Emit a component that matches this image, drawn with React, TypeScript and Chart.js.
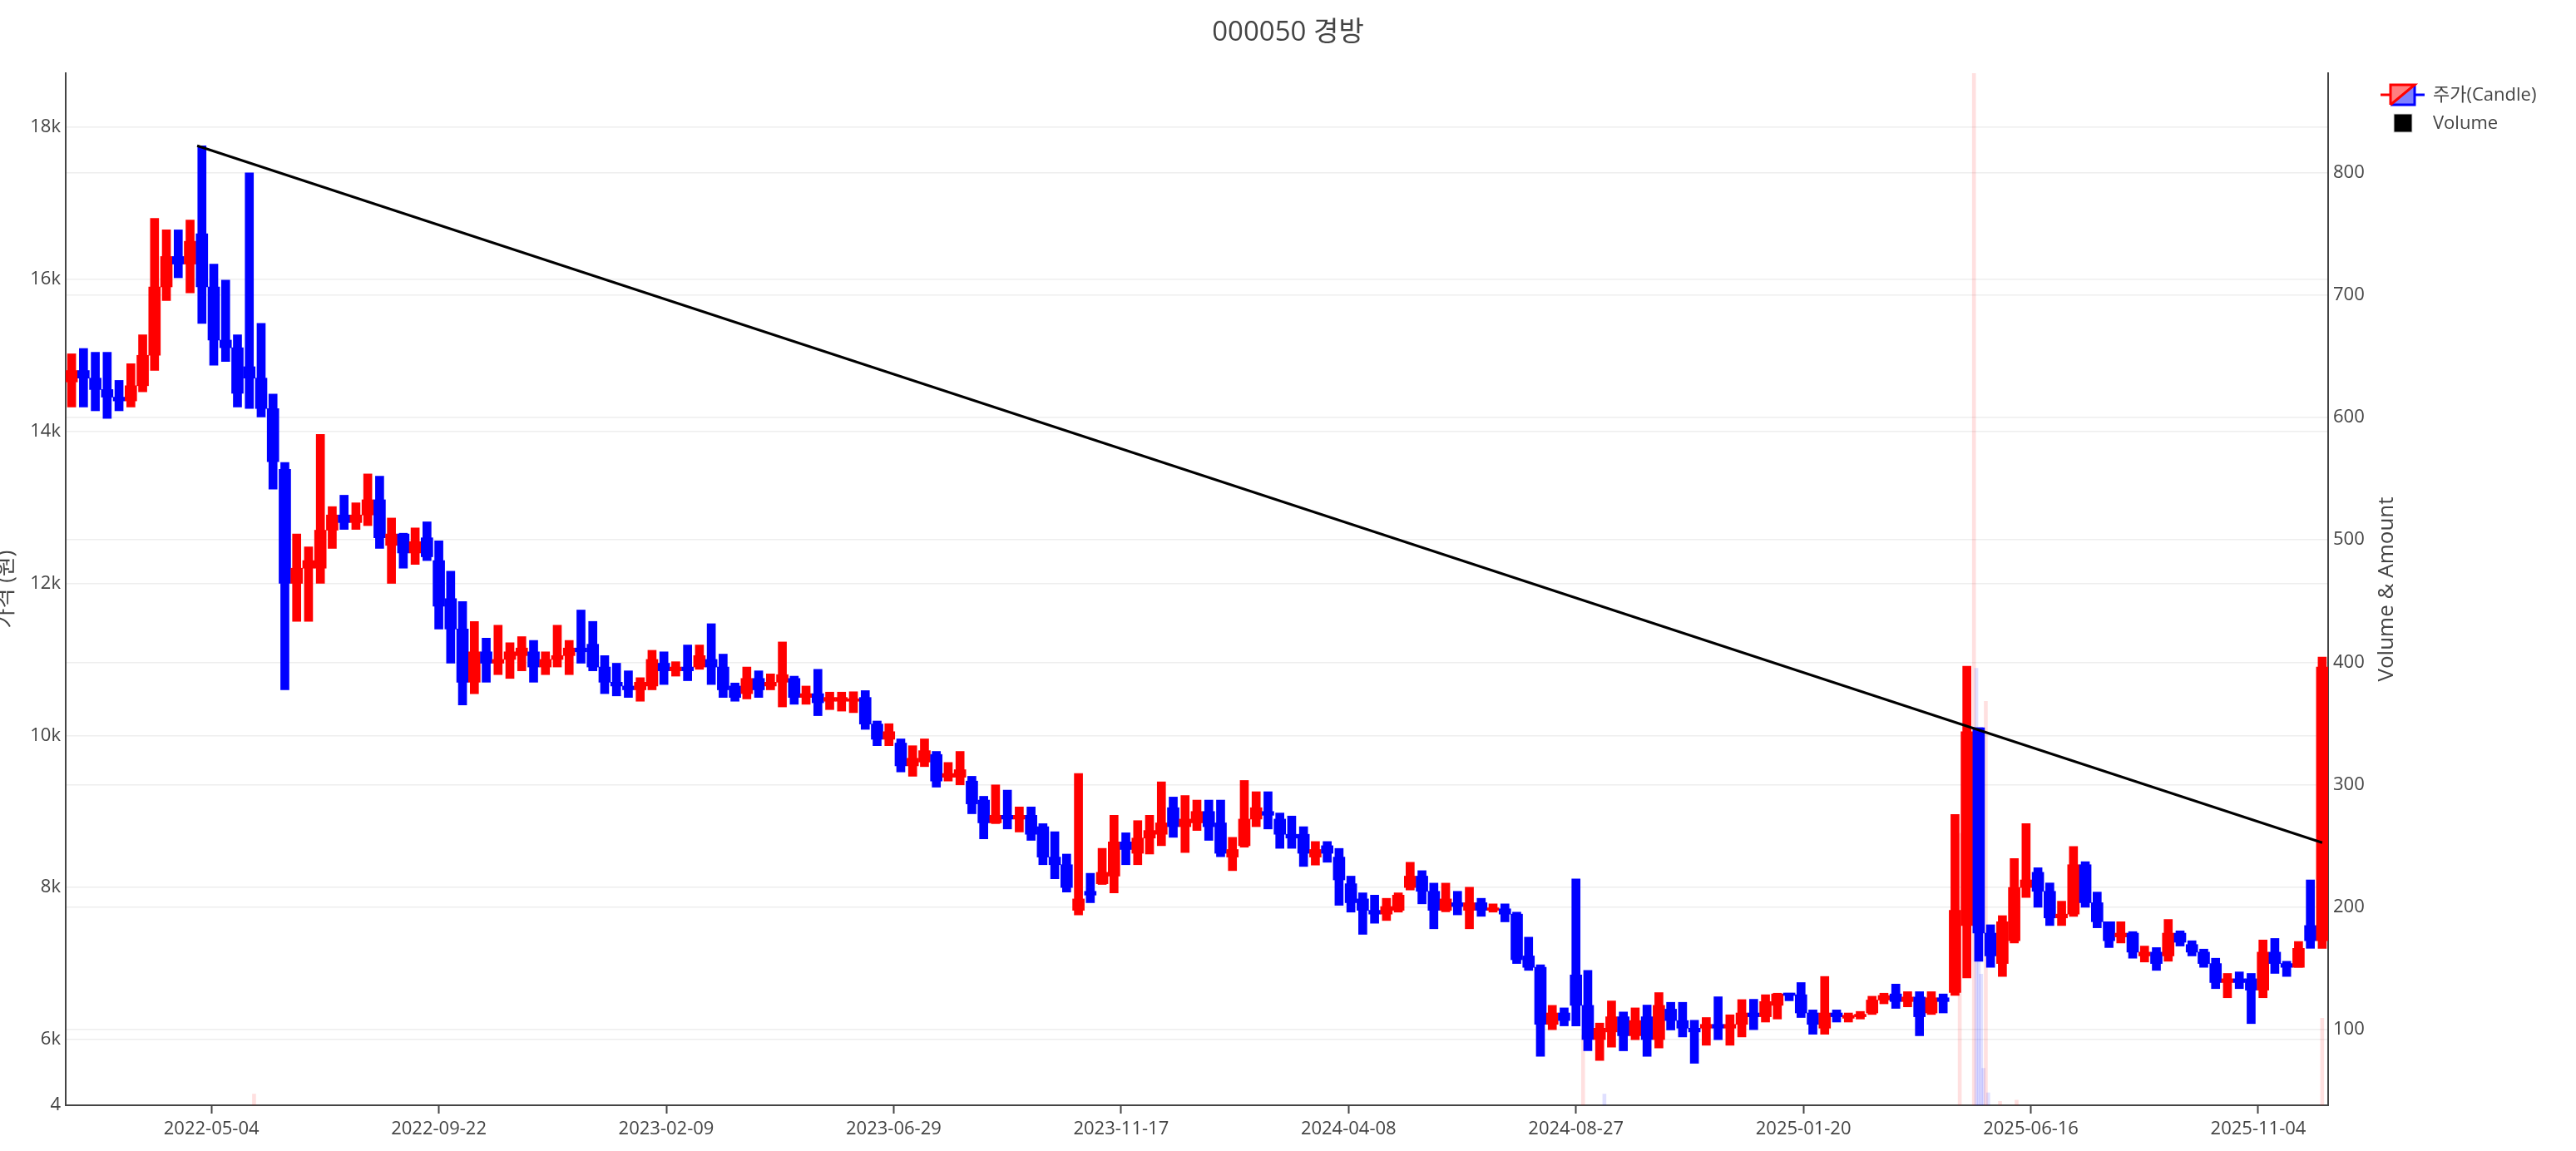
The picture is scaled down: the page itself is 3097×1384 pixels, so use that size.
import React, { useEffect, useRef } from 'react';
import { Chart, registerables } from 'chart.js';

Chart.register(...registerables);

const FONT = '"Open Sans", "Noto Sans CJK KR", sans-serif';
const TITLE = '000050 경방';
const PRICE_TITLE = '가격 (원)';
const VOLUME_TITLE = 'Volume & Amount';
const LEGEND_CANDLE = '주가(Candle)';
const LEGEND_VOLUME = 'Volume';

// trading-day axis: each candle below aggregates 5 trading days
const TOTAL_DAYS = 955;
const DAYS_PER_BAR = 5;

const TICK_DAY = [61, 157, 253, 349, 445, 541, 637, 733, 829, 925];
const TICK_LABELS = [
  '2022-05-04', '2022-09-22', '2023-02-09', '2023-06-29', '2023-11-17',
  '2024-04-08', '2024-08-27', '2025-01-20', '2025-06-16', '2025-11-04',
];

const PRICE_MIN = 5136;
const PRICE_MAX = 18711;
const PRICE_TICKS = [6000, 8000, 10000, 12000, 14000, 16000, 18000];
const VOL_MIN = 37.8;
const VOL_MAX = 881.6;
const VOL_TICKS = [100, 200, 300, 400, 500, 600, 700, 800];

const OPEN = [
  14650, 14800, 14700, 14550, 14450, 14400, 14600, 15000, 15900, 16300,
  16200, 16600, 15900, 15200, 15100, 14850, 14700, 14300, 13500, 12000,
  12200, 12200, 12700, 12900, 12800, 12900, 13100, 12500, 12650, 12400,
  12600, 12300, 11800, 11400, 10700, 11100, 10950, 11000, 11050, 11100,
  10900, 11000, 11050, 11150, 11200, 10900, 10700, 10650, 10600, 10650,
  10950, 10850, 10900, 10900, 11000, 10900, 10650, 10550, 10750, 10650,
  10700, 10750, 10500, 10550, 10450, 10450, 10450, 10500, 10150, 9950,
  9900, 9600, 9650, 9750, 9450, 9450, 9400, 9150, 8850, 8950,
  8900, 8950, 8800, 8400, 8300, 7700, 7950, 8050, 8150, 8600,
  8450, 8650, 8700, 9050, 8800, 8850, 9000, 8850, 8400, 8550,
  8900, 9000, 8900, 8700, 8700, 8400, 8550, 8400, 8050, 7850,
  7700, 7650, 7700, 8000, 8150, 7950, 7700, 7800, 7700, 7800,
  7700, 7720, 7650, 7100, 6950, 6200, 6350, 6850, 6450, 6000,
  6100, 6300, 6050, 6300, 6000, 6400, 6250, 6150, 6150, 6200,
  6150, 6200, 6350, 6300, 6450, 6600, 6590, 6350, 6150, 6350,
  6280, 6300, 6350, 6520, 6600, 6500, 6560, 6350, 6550, 6620,
  7500, 10100, 7400, 7000, 7300, 8000, 8200, 7950, 7600, 7650,
  8300, 7800, 7550, 7350, 7400, 7100, 7150, 7100, 7400, 7250,
  7150, 7000, 6750, 6800, 6800, 6650, 7150, 7000, 6950, 7500,
  7300,
];

const HIGH = [
  15020, 15090, 15040, 15040, 14670, 14890, 15270, 16800, 16650, 16650,
  16780, 17757, 16200, 15990, 15270, 17400, 15420, 14490, 13590, 12650,
  12480, 13960, 13010, 13160, 13060, 13440, 13410, 12860, 12660, 12730,
  12810, 12560, 12160, 11760, 11500, 11280, 11450, 11220, 11300, 11250,
  11100, 11450, 11250, 11650, 11500, 11050, 10950, 10850, 10760, 11120,
  11100, 10970, 11190, 11190, 11470, 11070, 10690, 10900, 10850, 10810,
  11230, 10780, 10650, 10870, 10570, 10570, 10575, 10590, 10190, 10155,
  9955, 9865, 9955, 9790, 9645, 9790, 9463, 9200, 9350, 9281,
  9060, 9060, 8840, 8734, 8440, 9500, 8187, 8515, 8950, 8720,
  8880, 8950, 9390, 9190, 9210, 9150, 9150, 9150, 8660, 9408,
  9260, 9260, 8980, 8940, 8800, 8605, 8605, 8514, 8150, 7930,
  7900, 7858, 7930, 8332, 8222, 8058, 8058, 7950, 8004, 7858,
  7785, 7785, 7676, 7347, 6983, 6450, 6417, 8113, 6910, 6217,
  6508, 6363, 6417, 6454, 6618, 6490, 6490, 6254, 6290, 6563,
  6326, 6526, 6530, 6590, 6610, 6610, 6750, 6390, 6830, 6390,
  6350, 6370, 6570, 6610, 6730, 6630, 6630, 6630, 6600, 8960,
  10910, 10100, 7510, 7630, 8380, 8840, 8260, 8060, 7820, 8540,
  8340, 7940, 7550, 7550, 7420, 7230, 7210, 7580, 7430, 7300,
  7190, 7070, 6870, 6890, 6870, 7310, 7330, 7030, 7290, 8100,
  11030,
];

const LOW = [
  14320, 14320, 14270, 14170, 14270, 14320, 14520, 14800, 15720, 16020,
  15820, 15420, 14870, 14920, 14320, 14300, 14190, 13240, 10600, 11500,
  11500, 12000, 12460, 12710, 12710, 12760, 12460, 12000, 12200, 12250,
  12300, 11400, 10950, 10400, 10550, 10700, 10800, 10750, 10850, 10700,
  10800, 10900, 10800, 10950, 10850, 10550, 10520, 10500, 10450, 10600,
  10670, 10780, 10720, 10870, 10670, 10500, 10450, 10480, 10500, 10600,
  10375, 10410, 10410, 10260, 10340, 10320, 10300, 10080, 9865, 9865,
  9520, 9463, 9590, 9320, 9400, 9350, 8970, 8640, 8840, 8770,
  8730, 8620, 8300, 8115, 7940, 7640, 7800, 8040, 7930, 8300,
  8300, 8440, 8550, 8660, 8460, 8750, 8620, 8405, 8222, 8530,
  8800, 8770, 8515, 8515, 8277, 8295, 8332, 7766, 7676, 7384,
  7530, 7566, 7676, 7967, 7785, 7457, 7680, 7640, 7457, 7621,
  7676, 7548, 7000, 6910, 5779, 6130, 6180, 6180, 5852, 5725,
  5900, 5852, 5998, 5779, 5889, 6126, 6034, 5688, 5925, 5998,
  5925, 6034, 6130, 6230, 6270, 6510, 6290, 6070, 6070, 6230,
  6230, 6270, 6330, 6470, 6410, 6430, 6050, 6330, 6350, 6580,
  6810, 7030, 6950, 6830, 7270, 7870, 7740, 7500, 7500, 7620,
  7740, 7470, 7210, 7270, 7070, 7020, 6910, 7030, 7230, 7100,
  6950, 6670, 6550, 6670, 6210, 6550, 6870, 6830, 6950, 7200,
  7200,
];

const CLOSE = [
  14800, 14700, 14550, 14450, 14400, 14600, 15000, 15900, 16300, 16200,
  16500, 15900, 15200, 15100, 14500, 14700, 14300, 13600, 12000, 12200,
  12300, 12700, 12900, 12800, 12900, 13100, 12600, 12650, 12400, 12550,
  12350, 11700, 11400, 10700, 11100, 10950, 11000, 11100, 11150, 10900,
  11000, 11050, 11150, 11100, 10900, 10700, 10650, 10600, 10700, 11000,
  10850, 10900, 10850, 11050, 10900, 10600, 10500, 10750, 10600, 10700,
  10800, 10500, 10550, 10430, 10500, 10500, 10480, 10150, 9950, 10050,
  9600, 9700, 9800, 9400, 9500, 9550, 9100, 8850, 8950, 8900,
  8950, 8700, 8400, 8300, 8000, 7850, 7900, 8200, 8600, 8500,
  8650, 8750, 8850, 8800, 8900, 9000, 8800, 8450, 8500, 8900,
  9050, 8950, 8700, 8650, 8450, 8500, 8450, 8100, 7800, 7700,
  7650, 7750, 7900, 8150, 7950, 7700, 7850, 7750, 7800, 7700,
  7720, 7650, 7050, 6950, 6200, 6350, 6250, 6450, 6000, 6150,
  6300, 6050, 6250, 6000, 6450, 6250, 6150, 6100, 6200, 6150,
  6200, 6350, 6300, 6500, 6600, 6580, 6350, 6200, 6350, 6300,
  6320, 6330, 6520, 6580, 6500, 6560, 6300, 6550, 6500, 7700,
  10050, 7400, 7100, 7550, 8000, 8100, 7950, 7600, 7650, 8300,
  7800, 7550, 7300, 7400, 7150, 7150, 7000, 7400, 7280, 7150,
  7000, 6750, 6800, 6750, 6650, 7150, 7000, 6950, 7200, 7300,
  10900,
];

// visible daily volume bars (trading-day index, value, rising day?)
const VOLUME_DAY = [79, 640, 649, 799, 805, 806, 807, 808, 809, 810, 811, 816, 823, 952];
const VOLUME = [47, 95, 47, 260, 900, 395, 190, 145, 68, 368, 48, 41, 42, 109];
const VOLUME_UP = [true, true, false, true, true, false, false, false, false, true, false, true, true, true];

// resistance line (trading-day index, price)
const TREND_DAY = [55, 952];
const TREND_PRICE = [17757, 8590];

const UP = '#ff0000';
const DOWN = '#0000ff';
const TEXT = '#444444';
const GRID = '#eeeeee';

const overlayPlugin = {
  id: 'overlay',
  afterDraw(chart: any) {
    const { ctx, chartArea } = chart;
    const r = chartArea.right;
    ctx.save();
    ctx.fillStyle = TEXT;
    ctx.font = `26px ${FONT}`;
    ctx.textAlign = 'center';
    ctx.textBaseline = 'middle';
    ctx.translate(r + 71, (chartArea.top + chartArea.bottom) / 2);
    ctx.rotate(-Math.PI / 2);
    ctx.fillText(VOLUME_TITLE, 0, 0);
    ctx.restore();

    // legend
    ctx.save();
    const ix = r + 63;
    const iy = 114;
    ctx.lineWidth = 3;
    ctx.strokeStyle = UP;
    ctx.beginPath();
    ctx.moveTo(ix, iy);
    ctx.lineTo(ix + 12, iy);
    ctx.stroke();
    ctx.strokeStyle = DOWN;
    ctx.beginPath();
    ctx.moveTo(ix + 41, iy);
    ctx.lineTo(ix + 53, iy);
    ctx.stroke();
    const bx = ix + 12;
    const by = iy - 12;
    const bw = 29;
    const bh = 24;
    ctx.fillStyle = 'rgba(255,0,0,0.5)';
    ctx.beginPath();
    ctx.moveTo(bx, by);
    ctx.lineTo(bx + bw, by);
    ctx.lineTo(bx, by + bh);
    ctx.closePath();
    ctx.fill();
    ctx.fillStyle = 'rgba(0,0,255,0.5)';
    ctx.beginPath();
    ctx.moveTo(bx + bw, by);
    ctx.lineTo(bx + bw, by + bh);
    ctx.lineTo(bx, by + bh);
    ctx.closePath();
    ctx.fill();
    ctx.strokeStyle = DOWN;
    ctx.beginPath();
    ctx.moveTo(bx + bw, by);
    ctx.lineTo(bx + bw, by + bh);
    ctx.lineTo(bx, by + bh);
    ctx.stroke();
    ctx.strokeStyle = UP;
    ctx.beginPath();
    ctx.moveTo(bx, by + bh);
    ctx.lineTo(bx, by);
    ctx.lineTo(bx + bw, by);
    ctx.lineTo(bx, by + bh);
    ctx.stroke();

    ctx.fillStyle = '#000';
    ctx.fillRect(ix + 16, 137, 22, 22);
    ctx.strokeStyle = '#dddddd';
    ctx.lineWidth = 1;
    ctx.strokeRect(ix + 16, 137, 22, 22);

    ctx.fillStyle = TEXT;
    ctx.font = `22px ${FONT}`;
    ctx.textAlign = 'left';
    ctx.textBaseline = 'middle';
    ctx.fillText(LEGEND_CANDLE, r + 126, 115);
    ctx.fillText(LEGEND_VOLUME, r + 126, 149);
    ctx.restore();
  },
};

export default function App() {
  const ref = useRef<HTMLCanvasElement | null>(null);

  useEffect(() => {
    if (!ref.current) return;
    Chart.defaults.font.family = FONT;
    Chart.defaults.color = TEXT;

    const centers = OPEN.map((_, i) => i * DAYS_PER_BAR + DAYS_PER_BAR / 2);
    const colors = OPEN.map((o, i) => (CLOSE[i] >= o ? UP : DOWN));

    const chart = new Chart(ref.current, {
      type: 'bar',
      data: {
        datasets: [
          {
            type: 'line',
            label: 'trend',
            data: TREND_DAY.map((d, i) => ({ x: d + 0.5, y: TREND_PRICE[i] })),
            borderColor: '#000000',
            borderWidth: 3,
            pointRadius: 0,
            fill: false,
            yAxisID: 'y',
            order: 0,
          } as any,
          {
            label: 'body',
            data: centers.map((x, i) => ({ x, y: [Math.min(OPEN[i], CLOSE[i]), Math.max(OPEN[i], CLOSE[i])] })),
            backgroundColor: colors,
            borderWidth: 0,
            barThickness: 14,
            minBarLength: 3,
            grouped: false,
            yAxisID: 'y',
            order: 1,
          } as any,
          {
            label: 'wick',
            data: centers.map((x, i) => ({ x, y: [LOW[i], HIGH[i]] })),
            backgroundColor: colors,
            borderWidth: 0,
            barThickness: 10,
            grouped: false,
            yAxisID: 'y',
            order: 2,
          } as any,
          {
            label: 'volume',
            data: VOLUME_DAY.map((d, i) => ({ x: d + 0.5, y: VOLUME[i] })),
            backgroundColor: VOLUME_UP.map((u) => (u ? 'rgba(255,0,0,0.12)' : 'rgba(0,0,255,0.12)')),
            borderWidth: 0,
            barThickness: 4,
            grouped: false,
            yAxisID: 'y1',
            order: 3,
          } as any,
        ],
      },
      options: {
        responsive: false,
        maintainAspectRatio: false,
        devicePixelRatio: 1,
        animation: false,
        layout: { padding: 0 },
        plugins: {
          legend: { display: false },
          tooltip: { enabled: false },
          title: {
            display: true,
            text: TITLE,
            color: TEXT,
            font: { size: 33, weight: 'normal', family: FONT, lineHeight: 1.2 },
            padding: { top: 20, bottom: 28.4 },
          },
        },
        scales: {
          x: {
            type: 'linear',
            min: 0,
            max: TOTAL_DAYS,
            offset: false,
            grid: {
              display: true,
              offset: false,
              drawOnChartArea: false,
              drawTicks: true,
              tickLength: 10,
              tickWidth: 2,
              tickColor: TEXT,
            },
            border: { display: true, color: TEXT, width: 2 },
            ticks: {
              autoSkip: false,
              maxRotation: 0,
              minRotation: 0,
              padding: 6,
              color: TEXT,
              font: { size: 22, family: FONT },
              callback: (_v: any, i: number) => TICK_LABELS[i] ?? '',
            },
            afterBuildTicks: (s: any) => {
              s.ticks = TICK_DAY.map((d) => ({ value: d + 0.5 }));
            },
            afterFit: (s: any) => {
              s.height = 55;
            },
          },
          y: {
            type: 'linear',
            position: 'left',
            min: PRICE_MIN,
            max: PRICE_MAX,
            grid: { color: GRID, lineWidth: 1.5, drawTicks: false },
            border: { display: true, color: TEXT, width: 2 },
            ticks: {
              padding: 6,
              color: TEXT,
              font: { size: 22, family: FONT },
              callback: (v: any) => (v === PRICE_MIN ? '4' : `${Number(v) / 1000}k`),
            },
            title: {
              display: true,
              text: PRICE_TITLE,
              color: TEXT,
              font: { size: 26, family: FONT },
              padding: { top: -8, bottom: 0 },
            },
            afterBuildTicks: (s: any) => {
              s.ticks = [PRICE_MIN, ...PRICE_TICKS].map((v) => ({ value: v }));
            },
            afterFit: (s: any) => {
              s.width = 79;
            },
          },
          y1: {
            type: 'linear',
            position: 'right',
            min: VOL_MIN,
            max: VOL_MAX,
            grid: { color: GRID, lineWidth: 1.5, drawTicks: false, drawOnChartArea: true },
            border: { display: true, color: TEXT, width: 2 },
            ticks: {
              padding: 6,
              color: TEXT,
              font: { size: 22, family: FONT },
            },
            afterBuildTicks: (s: any) => {
              s.ticks = VOL_TICKS.map((v) => ({ value: v }));
            },
            afterFit: (s: any) => {
              s.width = 298;
            },
          },
        },
      } as any,
      plugins: [overlayPlugin],
    });

    return () => chart.destroy();
  }, []);

  return (
    <div style={{ position: 'fixed', left: 0, top: 0, width: 3097, height: 1384, background: '#ffffff' }}>
      <canvas ref={ref} width={3097} height={1384} style={{ width: 3097, height: 1384, display: 'block' }} />
    </div>
  );
}
